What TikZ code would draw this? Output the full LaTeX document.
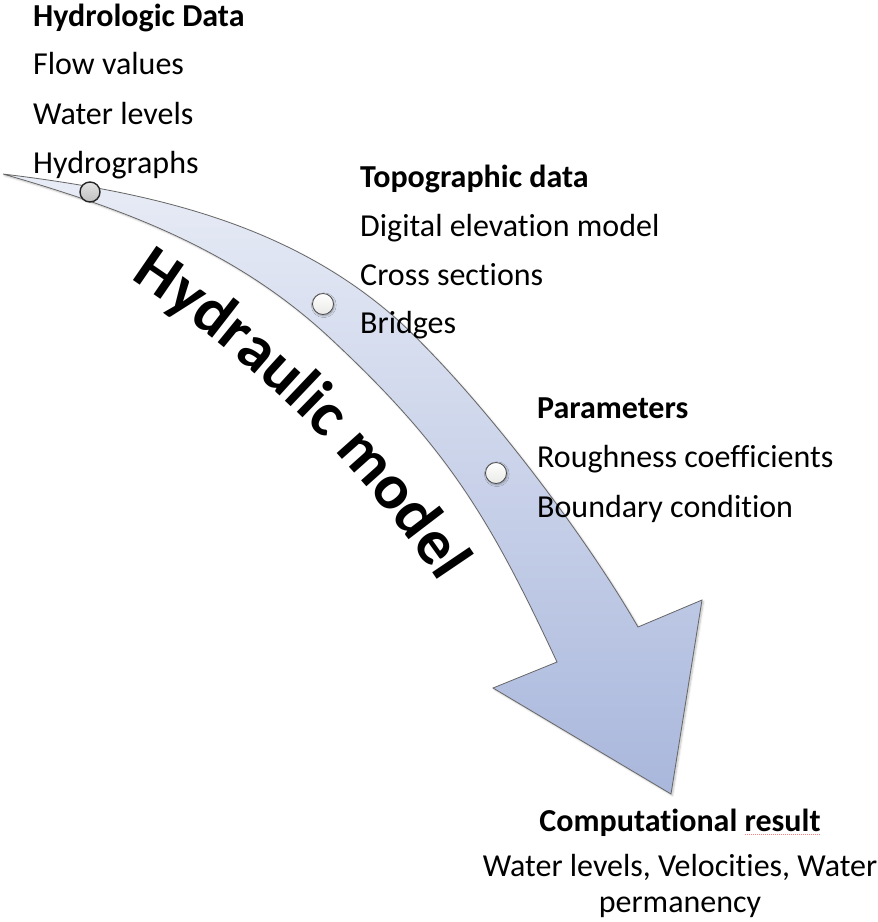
\documentclass[tikz,border=0pt]{standalone}
\usepackage{fontspec}
\setmainfont[Ligatures=NoCommon]{Carlito}
\usetikzlibrary{decorations.text,shadows.blur,calc}
\definecolor{edgegray}{HTML}{666666}
\definecolor{atop}{HTML}{E8ECF6}
\definecolor{abot}{HTML}{A9B7DC}
\newcommand\lblfont{\fontsize{32}{38}\selectfont}
\newcommand\hmfont{\fontsize{64}{76}\selectfont\bfseries}
\begin{document}
\begin{tikzpicture}[x=1pt,y=-1pt,
  lbl/.style={anchor=base west, inner sep=0pt, font=\lblfont},
  hdr/.style={lbl, font=\lblfont\bfseries},
  res/.style={anchor=base, inner sep=0pt, font=\lblfont},
  resh/.style={res, font=\lblfont\bfseries},
  arrowbody/.style={draw=edgegray, line width=0.8pt, top color=atop, bottom color=abot, line join=miter,
    blur shadow={shadow xshift=1.5pt, shadow yshift=-1.5pt, shadow blur steps=6, shadow opacity=25}},
  hdot/.style={circle, inner sep=0pt, minimum size=20pt, draw=black!85, line width=1.4pt, top color=gray!22, bottom color=gray!50},
  ldot/.style={circle, inner sep=0pt, minimum size=21pt, draw=black!70, line width=0.8pt, top color=white, bottom color=yellow!6!gray!18,
    blur shadow={shadow xshift=0.8pt, shadow yshift=-1.2pt, shadow blur steps=4, shadow opacity=35}}]
\useasboundingbox (0,0) rectangle (878,922);

% curved arrow
\path[arrowbody] (3,174) .. controls (150,192) and (290,223) .. (400,322)
  .. controls (480.4,397) and (583,531.7) .. (638,627)
  -- (702,600) -- (671,794) -- (493,688) -- (557,662)
  .. controls (489.4,517) and (447,447) .. (330,338)
  .. controls (236.4,250.7) and (126,209.3) .. (3,174) -- cycle;

% arrow text
\path[decorate, decoration={text along path, text={|\hmfont|Hydraulic model}, text align=center}]
  (106,263) -- (123,274) .. controls (249,356) and (362,464) .. (444,590) -- (455,607);

% dots
\node[hdot] (d1) at (90,192) {};
\node[ldot] (d2) at (323,304) {};
\node[ldot] (d3) at (496,473) {};

% hydrologic data
\node[hdr] (h0) at (33,26) {Hydrologic Data};
\node[lbl] (h1) at (33,74) {Flow values};
\node[lbl] (h2) at (33,124) {Water levels};
\node[lbl] (h3) at (33,173) {Hydrographs};

% topographic data
\node[hdr] (t0) at (360,187) {Topographic data};
\node[lbl] (t1) at (360,236) {Digital elevation model};
\node[lbl] (t2) at (360,285) {Cross sections};
\node[lbl] (t3) at (360,333) {Bridges};

% parameters
\node[hdr] (p0) at (537,418) {Parameters};
\node[lbl] (p1) at (537,467) {Roughness coefficients};
\node[lbl] (p2) at (537,517) {Boundary condition};

% result
\node[resh] (r0) at (680,831) {Computational result};
\node[res] (r1) at (680,876) {Water levels, Velocities, Water};
\node[res] (r2) at (680,912) {permanency};
\draw[red!50, line width=0.7pt, dash pattern=on 1pt off 1pt] ($(r0.base east)+(-76,3)$) -- ($(r0.base east)+(0,3)$);
\end{tikzpicture}
\end{document}
